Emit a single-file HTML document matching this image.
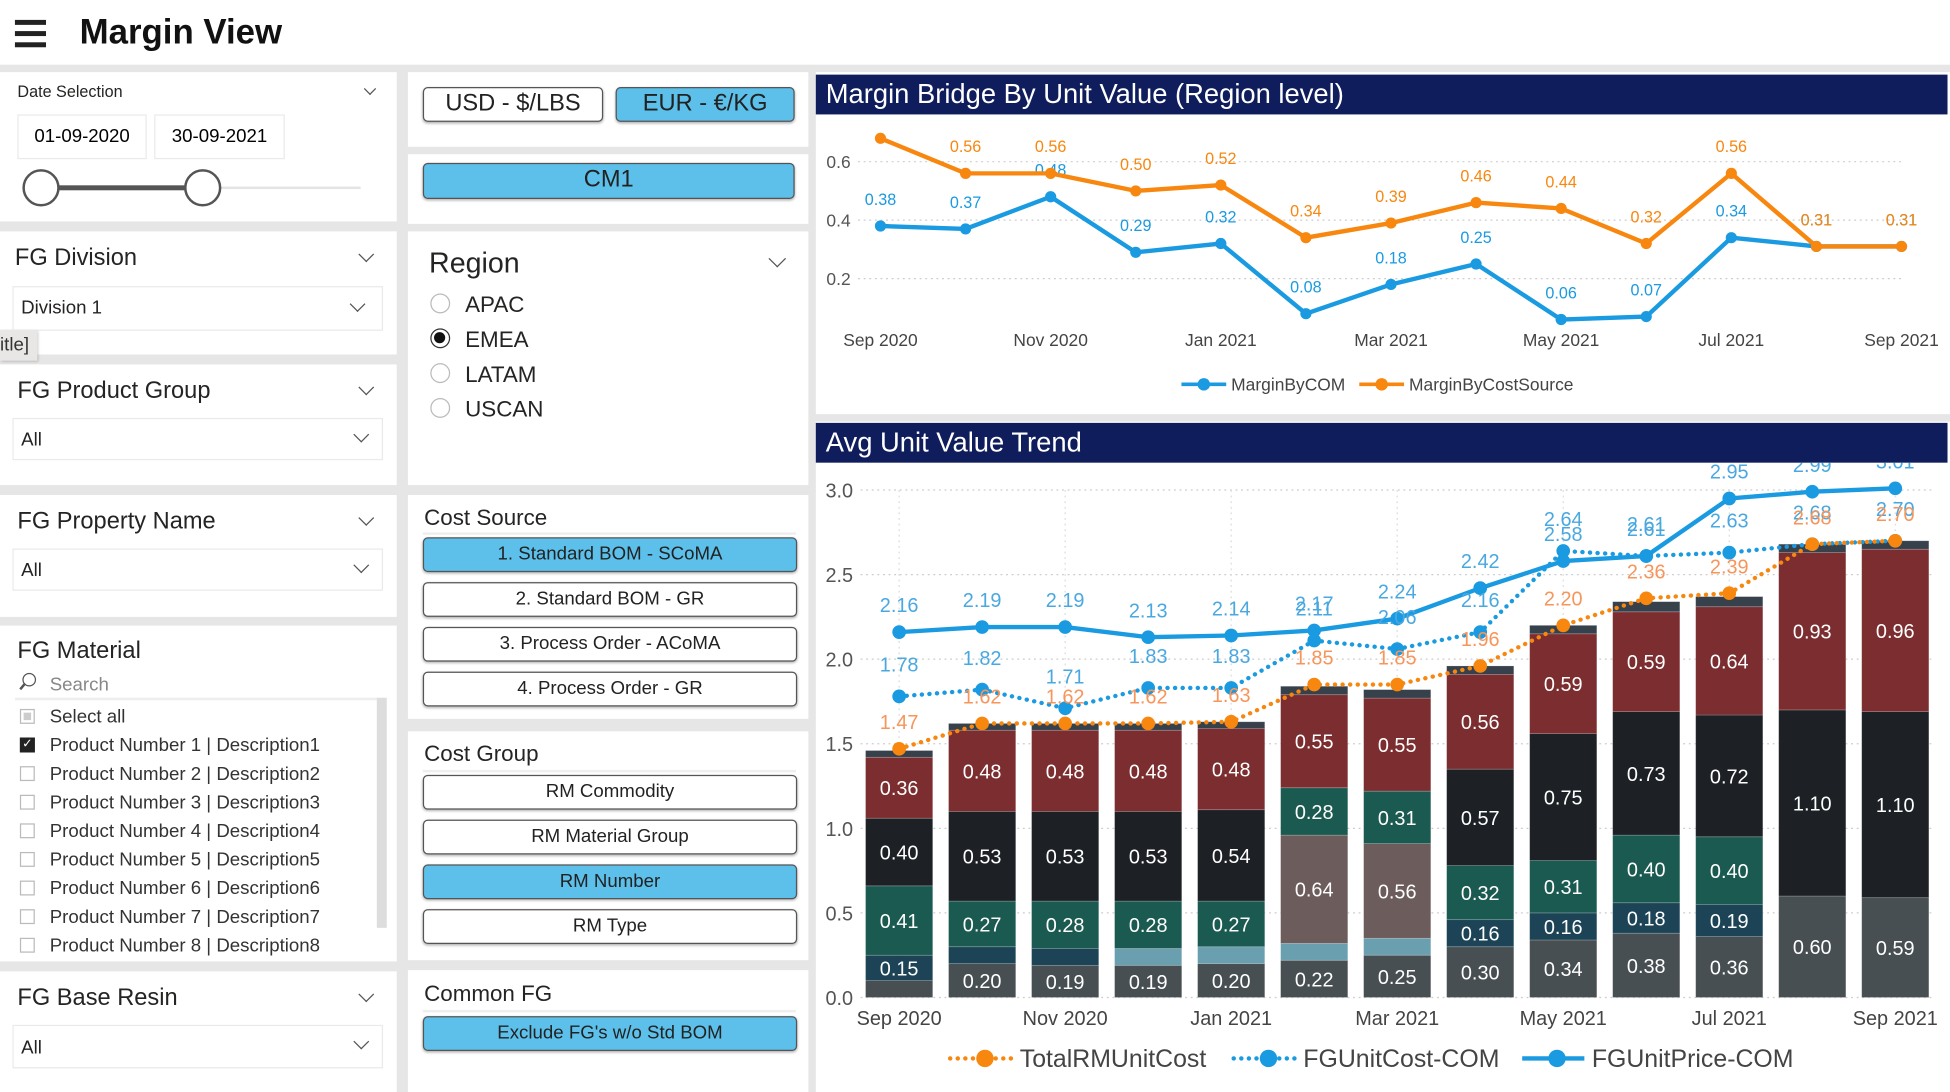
<!DOCTYPE html>
<html><head><meta charset="utf-8">
<style>
html,body{margin:0;padding:0;width:1950px;height:1092px;overflow:hidden;background:#fff;font-family:"Liberation Sans",sans-serif;}
#stage{position:absolute;left:0;top:0;width:1568px;height:878px;background:#e6e6e6;transform:scale(1.24362,1.24374);transform-origin:0 0;}
.p{position:absolute;background:#fff;}
.t{position:absolute;color:#252423;white-space:nowrap;}
.box{position:absolute;border:1px solid #eaeaea;background:#fff;}
.chev{position:absolute;width:8px;height:8px;border-right:1.5px solid #555;border-bottom:1.5px solid #555;transform:rotate(45deg);}
.btn{position:absolute;border:1.5px solid #555;border-radius:4px;background:#fff;text-align:center;font-size:15px;color:#222;box-shadow:0 1px 2px rgba(0,0,0,.3);box-sizing:border-box;}
.btn.on{background:#5cc0ea;}
.radio{position:absolute;width:16px;height:16px;border:1.5px solid #bbb;border-radius:50%;box-sizing:border-box;}
.cb{position:absolute;width:12px;height:12px;border:1px solid #bbb;box-sizing:border-box;background:#fff;}
.ttl{position:absolute;height:32px;background:#0f1d5c;color:#fff;font-size:22px;line-height:32px;padding-left:8px;box-sizing:border-box;}
</style></head>
<body>
<div id="stage">
  <div class="p" style="left:0;top:0;width:1568px;height:52px">
    <div style="position:absolute;left:12px;top:16px;width:25px;height:22px">
      <div style="height:4px;background:#222;margin-bottom:5px"></div><div style="height:4px;background:#222;margin-bottom:5px"></div><div style="height:4px;background:#222"></div>
    </div>
    <div class="t" style="left:64px;top:10px;font-size:28px;font-weight:bold;color:#111">Margin View</div>
  </div>

  <!-- left column -->
  <div class="p" style="left:0;top:58px;width:319px;height:120px">
    <div class="t" style="left:14px;top:8px;font-size:13px">Date Selection</div>
    <div class="chev" style="left:294px;top:10px;width:6px;height:6px"></div>
    <div class="box" style="left:14px;top:34px;width:102px;height:34px;font-size:15px;line-height:34px;text-align:center">01-09-2020</div>
    <div class="box" style="left:124px;top:34px;width:103px;height:34px;font-size:15px;line-height:34px;text-align:center">30-09-2021</div>
    <div style="position:absolute;left:33px;top:92px;width:257px;height:2px;background:#e4e4e4"></div>
    <div style="position:absolute;left:33px;top:91px;width:130px;height:4px;background:#555"></div>
    <div style="position:absolute;left:18px;top:78px;width:30px;height:30px;border:2.5px solid #555;border-radius:50%;background:#fff;box-sizing:border-box"></div>
    <div style="position:absolute;left:148px;top:78px;width:30px;height:30px;border:2.5px solid #555;border-radius:50%;background:#fff;box-sizing:border-box"></div>
  </div>

  <div class="p" style="left:0;top:186px;width:319px;height:99px">
    <div class="t" style="left:12px;top:11px;font-size:19px">FG Division</div>
    <div class="chev" style="left:290px;top:14px"></div>
    <div class="box" style="left:10px;top:44px;width:296px;height:34px">
      <div class="t" style="left:6px;top:8px;font-size:15px">Division 1</div>
      <div class="chev" style="left:272px;top:9px"></div>
    </div>
  </div>
  <div style="position:absolute;left:0;top:265px;width:30px;height:25px;background:#e9e6e6;font-size:15px;line-height:25px;color:#333;box-shadow:1px 1px 2px rgba(0,0,0,.2)">itle]</div>

  <div class="p" style="left:0;top:293px;width:319px;height:97px">
    <div class="t" style="left:14px;top:11px;font-size:19px">FG Product Group</div>
    <div class="chev" style="left:290px;top:14px"></div>
    <div class="box" style="left:10px;top:43px;width:296px;height:32px">
      <div class="t" style="left:6px;top:8px;font-size:15px">All</div><div class="chev" style="left:275px;top:8px"></div>
    </div>
  </div>

  <div class="p" style="left:0;top:398px;width:319px;height:98px">
    <div class="t" style="left:14px;top:11px;font-size:19px">FG Property Name</div>
    <div class="chev" style="left:290px;top:14px"></div>
    <div class="box" style="left:10px;top:43px;width:296px;height:32px">
      <div class="t" style="left:6px;top:8px;font-size:15px">All</div><div class="chev" style="left:275px;top:8px"></div>
    </div>
  </div>

  <div class="p" style="left:0;top:503px;width:319px;height:270px">
    <div class="t" style="left:14px;top:10px;font-size:19px">FG Material</div>
    <div style="position:absolute;left:12px;top:36px;width:292px;height:22px;border-bottom:2px solid #eee">
      <div style="position:absolute;left:6px;top:2px;width:9px;height:9px;border:1.5px solid #555;border-radius:50%"></div>
      <div style="position:absolute;left:3px;top:12px;width:6px;height:1.5px;background:#555;transform:rotate(-50deg)"></div>
      <div class="t" style="left:28px;top:3px;font-size:15px;color:#888">Search</div>
    </div>
    <div style="position:absolute;left:303px;top:58px;width:8px;height:185px;background:#ddd"></div>
    <div id="matlist"></div>
  </div>

  <div class="p" style="left:0;top:781px;width:319px;height:97px">
    <div class="t" style="left:14px;top:11px;font-size:19px">FG Base Resin</div>
    <div class="chev" style="left:290px;top:14px"></div>
    <div class="box" style="left:10px;top:43px;width:296px;height:33px">
      <div class="t" style="left:6px;top:9px;font-size:15px">All</div><div class="chev" style="left:275px;top:8px"></div>
    </div>
  </div>

  <!-- middle column -->
  <div class="p" style="left:328px;top:58px;width:322px;height:60px">
    <div class="btn" style="left:12px;top:12px;width:145px;height:28px;font-size:19px;line-height:25px">USD - $/LBS</div>
    <div class="btn on" style="left:167px;top:12px;width:144px;height:28px;font-size:19px;line-height:25px">EUR - €/KG</div>
  </div>
  <div class="p" style="left:328px;top:124px;width:322px;height:56px">
    <div class="btn on" style="left:12px;top:7px;width:299px;height:29px;font-size:19px;line-height:26px">CM1</div>
  </div>
  <div class="p" style="left:328px;top:186px;width:322px;height:204px">
    <div class="t" style="left:17px;top:12px;font-size:23px">Region</div>
    <div class="chev" style="left:292px;top:17px;width:9px;height:9px"></div>
    <div class="radio" style="left:18px;top:50px"></div><div class="t" style="left:46px;top:49px;font-size:18px">APAC</div>
    <div class="radio" style="left:18px;top:78px;border-color:#333"><div style="margin:2px;width:9px;height:9px;border-radius:50%;background:#111"></div></div><div class="t" style="left:46px;top:77px;font-size:18px">EMEA</div>
    <div class="radio" style="left:18px;top:106px"></div><div class="t" style="left:46px;top:105px;font-size:18px">LATAM</div>
    <div class="radio" style="left:18px;top:134px"></div><div class="t" style="left:46px;top:133px;font-size:18px">USCAN</div>
  </div>
  <div class="p" style="left:328px;top:398px;width:322px;height:180px">
    <div class="t" style="left:13px;top:8px;font-size:18px">Cost Source</div>
    <div style="position:absolute;left:12px;top:30px;width:300px;height:1.5px;background:#eee"></div>
    <div class="btn on" style="left:12px;top:34px;width:301px;height:28px;line-height:25px">1. Standard BOM - SCoMA</div>
    <div class="btn" style="left:12px;top:70px;width:301px;height:28px;line-height:25px">2. Standard BOM - GR</div>
    <div class="btn" style="left:12px;top:106px;width:301px;height:28px;line-height:25px">3. Process Order - ACoMA</div>
    <div class="btn" style="left:12px;top:142px;width:301px;height:28px;line-height:25px">4. Process Order - GR</div>
  </div>
  <div class="p" style="left:328px;top:588px;width:322px;height:184px">
    <div class="t" style="left:13px;top:8px;font-size:18px">Cost Group</div>
    <div style="position:absolute;left:12px;top:31px;width:300px;height:1.5px;background:#eee"></div>
    <div class="btn" style="left:12px;top:35px;width:301px;height:28px;line-height:25px">RM Commodity</div>
    <div class="btn" style="left:12px;top:71px;width:301px;height:28px;line-height:25px">RM Material Group</div>
    <div class="btn on" style="left:12px;top:107px;width:301px;height:28px;line-height:25px">RM Number</div>
    <div class="btn" style="left:12px;top:143px;width:301px;height:28px;line-height:25px">RM Type</div>
  </div>
  <div class="p" style="left:328px;top:780px;width:322px;height:98px">
    <div class="t" style="left:13px;top:9px;font-size:18px">Common FG</div>
    <div style="position:absolute;left:12px;top:32px;width:300px;height:1.5px;background:#eee"></div>
    <div class="btn on" style="left:12px;top:37px;width:301px;height:28px;line-height:25px">Exclude FG's w/o Std BOM</div>
  </div>

  <!-- right column -->
  <div class="p" style="left:656px;top:58px;width:912px;height:275px"></div>
  <div class="ttl" style="left:656px;top:60px;width:910px">Margin Bridge By Unit Value (Region level)</div>
  <svg id="top" style="position:absolute;left:656px;top:92px" width="912" height="241" viewBox="656 92 912 241"></svg>

  <div class="p" style="left:656px;top:339px;width:912px;height:539px"></div>
  <div class="ttl" style="left:656px;top:340px;width:910px">Avg Unit Value Trend</div>
  <svg id="bot" style="position:absolute;left:656px;top:372px" width="912" height="506" viewBox="656 372 912 506"></svg>
</div>

<script>
// ---- material list ----
const materials = ["Select all","Product Number 1 | Description1","Product Number 2 | Description2","Product Number 3 | Description3","Product Number 4 | Description4","Product Number 5 | Description5","Product Number 6 | Description6","Product Number 7 | Description7","Product Number 8 | Description8"];
const ml = document.getElementById('matlist');
materials.forEach((m,i)=>{
  const row=document.createElement('div');
  
  
  row.style.cssText='position:absolute;left:16px;top:'+(64+i*23)+'px;height:20px;width:280px';
  let cb='<div class="cb" style="left:0;top:3px;'+(i==1?'background:#222;border-color:#222':'')+'">'+(i==1?'<div style="color:#fff;font-size:10px;line-height:10px;text-align:center">✓</div>':'')+(i==0?'<div style="margin:2px;width:6px;height:6px;background:#ccc"></div>':'')+'</div>';
  row.innerHTML=cb+'<div class="t" style="left:24px;top:1px;font-size:15px;color:#333">'+m+'</div>';
  ml.appendChild(row);
});

const NS='http://www.w3.org/2000/svg';
function mk(svg,tag,attrs,text){const e=document.createElementNS(NS,tag);for(const k in attrs)e.setAttribute(k,attrs[k]);if(text!==undefined)e.textContent=text;svg.appendChild(e);return e;}

// ---- top chart data ----
const topMonths = ["Sep 2020","Oct 2020","Nov 2020","Dec 2020","Jan 2021","Feb 2021","Mar 2021","Apr 2021","May 2021","Jun 2021","Jul 2021","Aug 2021","Sep 2021"];
const marginByCOM = [0.38,0.37,0.48,0.29,0.32,0.08,0.18,0.25,0.06,0.07,0.34,0.31,0.31];
const marginByCostSource = [0.68,0.56,0.56,0.50,0.52,0.34,0.39,0.46,0.44,0.32,0.56,0.31,0.31];
const topTicks = [0.2,0.4,0.6];

// ---- bottom chart data ----
const months = ["Sep 2020","Oct 2020","Nov 2020","Dec 2020","Jan 2021","Feb 2021","Mar 2021","Apr 2021","May 2021","Jun 2021","Jul 2021","Aug 2021","Sep 2021"];
const segBase   = [0.10,0.20,0.19,0.19,0.20,0.22,0.25,0.30,0.34,0.38,0.36,0.60,0.59];
const segNavy   = [0.15,0.10,0.10,0,0,0,0,0.16,0.16,0.18,0.19,0,0];
const segLight  = [0,0,0,0.10,0.10,0.10,0.10,0,0,0,0,0,0];
const segBrown  = [0,0,0,0,0,0.64,0.56,0,0,0,0,0,0];
const segTeal   = [0.41,0.27,0.28,0.28,0.27,0.28,0.31,0.32,0.31,0.40,0.40,0,0];
const segBlack  = [0.40,0.53,0.53,0.53,0.54,0,0,0.57,0.75,0.73,0.72,1.10,1.10];
const segMaroon = [0.36,0.48,0.48,0.48,0.48,0.55,0.55,0.56,0.59,0.59,0.64,0.93,0.96];
const segTop    = [0.04,0.04,0.04,0.04,0.04,0.05,0.05,0.05,0.05,0.06,0.06,0.05,0.05];
const totalRMUnitCost = [1.47,1.62,1.62,1.62,1.63,1.85,1.85,1.96,2.20,2.36,2.39,2.68,2.70];
const fgUnitCostCOM   = [1.78,1.82,1.71,1.83,1.83,2.11,2.06,2.16,2.64,2.61,2.63,2.68,2.70];
const fgUnitPriceCOM  = [2.16,2.19,2.19,2.13,2.14,2.17,2.24,2.42,2.58,2.61,2.95,2.99,3.01];
const botTicks = [0.0,0.5,1.0,1.5,2.0,2.5,3.0];

const BLUE='#1a9ae0', ORANGE='#f7870f';

// ---- top chart ----
(function(){
  const svg=document.getElementById('top');
  const x=i=>708+i*(1529-708)/12;
  const y=v=>271-v*235;
  topTicks.forEach(t=>{
    const g=mk(svg,'line',{x1:690,x2:1530,y1:y(t),y2:y(t),stroke:'#ccc','stroke-dasharray':'1.5 3'});
    
    
    const l=mk(svg,'text',{x:684,y:y(t)+5,'text-anchor':'end','font-size':14,fill:'#555','font-family':'Liberation Sans'},t.toFixed(1));
    
    
  });
  topMonths.forEach((m,i)=>{ if(i%2) return;
    const l=mk(svg,'text',{x:x(i),y:278,'text-anchor':'middle','font-size':14,fill:'#444','font-family':'Liberation Sans'},m);
    
    
  });
  function series(vals,col,name,off){
    const p=mk(svg,'polyline',{points:vals.map((v,i)=>x(i)+','+y(v)).join(' '),fill:'none',stroke:col,'stroke-width':3.5,'stroke-linejoin':'round'});
    
    
    vals.forEach((v,i)=>{
      const c=mk(svg,'circle',{cx:x(i),cy:y(v),r:4.5,fill:col});
      
      
      if(i===0 && name==='margin-by-cost-source') return;
      const t=mk(svg,'text',{x:x(i),y:y(v)+off,'text-anchor':'middle','font-size':13,fill:col,'font-family':'Liberation Sans'},v.toFixed(2));
      
      
    });
  }
  series(marginByCOM,BLUE,'margin-by-com',-17);
  series(marginByCostSource,ORANGE,'margin-by-cost-source',-17);
  // legend
  const lg=[[950,BLUE,'MarginByCOM'],[1093,ORANGE,'MarginByCostSource']];
  lg.forEach(([lx,c,n])=>{
    const g=mk(svg,'g',{});
    
    
    mk(g,'line',{x1:lx,x2:lx+36,y1:309,y2:309,stroke:c,'stroke-width':3});
    mk(g,'circle',{cx:lx+18,cy:309,r:5,fill:c});
    mk(g,'text',{x:lx+40,y:314,'font-size':14,fill:'#444','font-family':'Liberation Sans'},n);
  });
})();

// ---- bottom chart ----
(function(){
  const svg=document.getElementById('bot');
  const x=i=>723+i*(1524-723)/12;
  const y=v=>802-v*136;
  const bw=54;
  botTicks.forEach(t=>{
    const g=mk(svg,'line',{x1:692,x2:1555,y1:y(t),y2:y(t),stroke:'#ccc','stroke-dasharray':'1.5 3'});
    
    
    const l=mk(svg,'text',{x:686,y:y(t)+6,'text-anchor':'end','font-size':16,fill:'#555','font-family':'Liberation Sans'},t.toFixed(1));
    
    
  });
  months.forEach((m,i)=>{ if(i%2) return;
    const vg=mk(svg,'line',{x1:x(i),x2:x(i),y1:394,y2:802,stroke:'#ddd','stroke-dasharray':'1.5 3'});
    
    
    const l=mk(svg,'text',{x:x(i),y:824,'text-anchor':'middle','font-size':16,fill:'#444','font-family':'Liberation Sans'},m);
    
    
  });
  const segs=[[segBase,'#474f52'],[segNavy,'#1c4456'],[segLight,'#6a9fb0'],[segBrown,'#6d5c5c'],[segTeal,'#1b5a50'],[segBlack,'#1d2125'],[segMaroon,'#7b2d2f'],[segTop,'#37414c']];
  months.forEach((m,i)=>{
    let acc=0;
    segs.forEach(([arr,col],si)=>{
      const v=arr[i]; if(!v) return;
      const r=mk(svg,'rect',{x:x(i)-bw/2,y:y(acc+v),width:bw,height:v*136,fill:col,stroke:'rgba(255,255,255,0.25)','stroke-width':0.6});
      
      
      if(v>=0.15){
        const t=mk(svg,'text',{x:x(i),y:y(acc+v/2)+6,'text-anchor':'middle','font-size':16,fill:'#fff','font-family':'Liberation Sans'},v.toFixed(2));
        
        
      }
      acc+=v;
    });
  });
  function series(vals,col,name,dash,off,lblCol){
    const p=mk(svg,'polyline',{points:vals.map((v,i)=>x(i)+','+y(v)).join(' '),fill:'none',stroke:col,'stroke-width':3.5,'stroke-dasharray':dash,'stroke-linecap':dash?'round':'butt'});
    
    
    vals.forEach((v,i)=>{
      const c=mk(svg,'circle',{cx:x(i),cy:y(v),r:5.5,fill:col});
      
      
      const t=mk(svg,'text',{x:x(i),y:y(v)+off,'text-anchor':'middle','font-size':16,fill:lblCol,'font-family':'Liberation Sans'},v.toFixed(2));
      
      
    });
  }
  series(fgUnitPriceCOM,BLUE,'fg-unit-price-com','',-16,'#4aa8e0');
  series(fgUnitCostCOM,BLUE,'fg-unit-cost-com','0.1 6',-20,'#4aa8e0');
  series(totalRMUnitCost,ORANGE,'total-rm-unit-cost','0.1 6',-16,'#f7955a');
  const lg=[[764,ORANGE,'0.1 6','TotalRMUnitCost'],[992,BLUE,'0.1 6','FGUnitCost-COM'],[1224,BLUE,'','FGUnitPrice-COM']];
  lg.forEach(([lx,c,d,n])=>{
    const g=mk(svg,'g',{});
    
    
    mk(g,'line',{x1:lx,x2:lx+50,y1:851,y2:851,stroke:c,'stroke-width':3.5,'stroke-dasharray':d,'stroke-linecap':d?'round':'butt'});
    mk(g,'circle',{cx:lx+28,cy:851,r:7,fill:c});
    mk(g,'text',{x:lx+56,y:858,'font-size':20,fill:'#444','font-family':'Liberation Sans'},n);
  });
})();
</script>
</body></html>
